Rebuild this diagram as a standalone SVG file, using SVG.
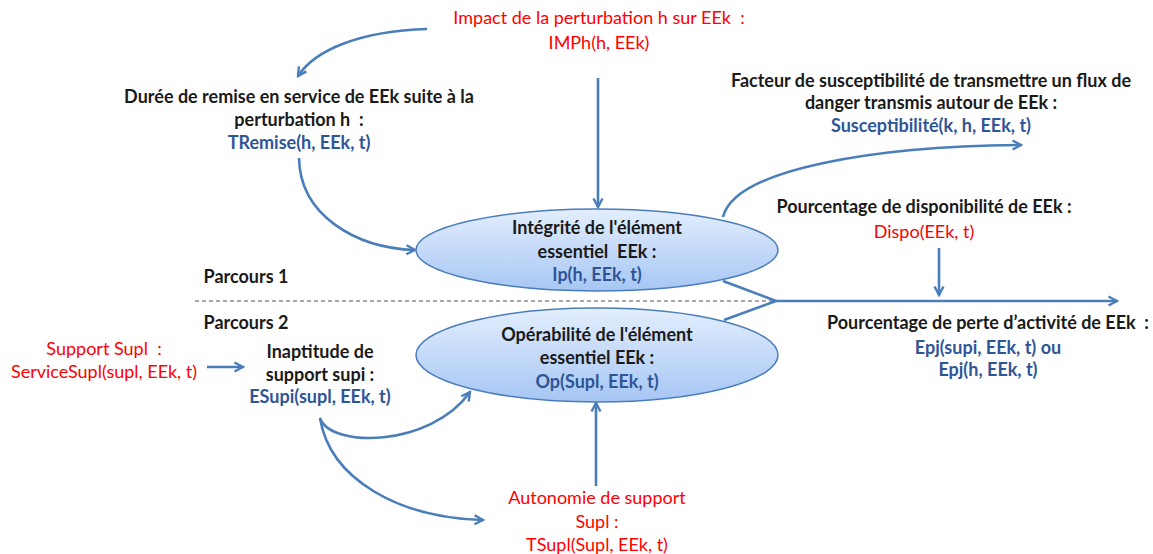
<svg xmlns="http://www.w3.org/2000/svg" width="1153" height="554" viewBox="0 0 1153 554">
<style>
text{font-family:Lato,"Liberation Sans",sans-serif;font-size:18px;text-anchor:middle;white-space:pre}
.b{font-weight:bold;fill:#1a1a1a}
.bl{font-weight:bold;fill:#2f5597}
.r{fill:#ff0000}
.c{fill:none;stroke:#4a7ebb;stroke-width:2.6}
.e{stroke:#4a7ebb;stroke-width:1.5;fill:url(#g)}
</style>
<defs>
<linearGradient id="g" x1="0" y1="0" x2="0" y2="1">
<stop offset="0" stop-color="#e3eefd"/>
<stop offset="1" stop-color="#a6c6f4"/>
</linearGradient>
<marker id="a" viewBox="0 0 12 12" refX="10" refY="6" markerWidth="12" markerHeight="12" markerUnits="userSpaceOnUse" orient="auto">
<path d="M1.5,1.5 L10,6 L1.5,10.5" fill="none" stroke="#4a7ebb" stroke-width="2.4"/>
</marker>
</defs>
<g id="connectors">
<path class="c" d="M427,29 C360,31 315,50 298,76" marker-end="url(#a)"/>
<path class="c" d="M299,158 C300,215 355,248 415,250" marker-end="url(#a)"/>
<path class="c" d="M598,78 L598,207" marker-end="url(#a)"/>
<path class="c" d="M723,217 C735,168 880,146 1021,145" marker-end="url(#a)"/>
<path class="c" d="M939,248 L939,295" marker-end="url(#a)"/>
<path d="M195,301 L776,301" stroke="#555" stroke-width="1.2" stroke-dasharray="4,3" fill="none"/>
<path class="c" d="M723,281 L776,301 L724,320"/>
<path class="c" d="M776,301 L1117,301" marker-end="url(#a)"/>
<path class="c" d="M207,367 L243,367" marker-end="url(#a)"/>
<path class="c" d="M320,418 C330,448 430,448 470,392" marker-end="url(#a)"/>
<path class="c" d="M320,418 C330,480 400,518 483,520" marker-end="url(#a)"/>
<path class="c" d="M596,486 L596,403" marker-end="url(#a)"/>
</g>
<g id="impact">
<text class="r" x="599" y="24">Impact de la perturbation h sur EEk  :</text>
<text class="r" x="599" y="49">IMPh(h, EEk)</text>
</g>
<g id="duree">
<text class="b" x="299" y="103">Durée de remise en service de EEk suite à la</text>
<text class="b" x="299" y="126">perturbation h  :</text>
<text class="bl" x="299" y="149">TRemise(h, EEk, t)</text>
</g>
<g id="facteur">
<text class="b" x="931" y="87">Facteur de susceptibilité de transmettre un flux de</text>
<text class="b" x="931" y="109">danger transmis autour de EEk :</text>
<text class="bl" x="931" y="132">Susceptibilité(k, h, EEk, t)</text>
</g>
<g id="dispo">
<text class="b" x="924" y="213">Pourcentage de disponibilité de EEk :</text>
<text class="r" x="924" y="238">Dispo(EEk, t)</text>
</g>
<g id="integrite">
<ellipse class="e" cx="597" cy="250" rx="181" ry="41"/>
<text class="b" x="597" y="234">Intégrité de l'élément</text>
<text class="b" x="597" y="258">essentiel  EEk :</text>
<text class="bl" x="597" y="281">Ip(h, EEk, t)</text>
</g>
<g id="operabilite">
<ellipse class="e" cx="597" cy="355" rx="181" ry="47"/>
<text class="b" x="597" y="341">Opérabilité de l'élément</text>
<text class="b" x="597" y="364">essentiel EEk :</text>
<text class="bl" x="597" y="388">Op(Supl, EEk, t)</text>
</g>
<g id="parcours">
<text class="b" x="246" y="283">Parcours 1</text>
<text class="b" x="246" y="329">Parcours 2</text>
</g>
<g id="perte">
<text class="b" x="988" y="329">Pourcentage de perte d’activité de EEk  :</text>
<text class="bl" x="988" y="354">Epj(supi, EEk, t) ou</text>
<text class="bl" x="988" y="376">Epj(h, EEk, t)</text>
</g>
<g id="support">
<text class="r" x="104" y="355">Support Supl  :</text>
<text class="r" x="104" y="378">ServiceSupl(supl, EEk, t)</text>
</g>
<g id="inaptitude">
<text class="b" x="320" y="358">Inaptitude de</text>
<text class="b" x="320" y="381">support supi :</text>
<text class="bl" x="320" y="403">ESupi(supl, EEk, t)</text>
</g>
<g id="autonomie">
<text class="r" x="597" y="504">Autonomie de support</text>
<text class="r" x="597" y="528">Supl :</text>
<text class="r" x="597" y="551">TSupl(Supl, EEk, t)</text>
</g>
</svg>
